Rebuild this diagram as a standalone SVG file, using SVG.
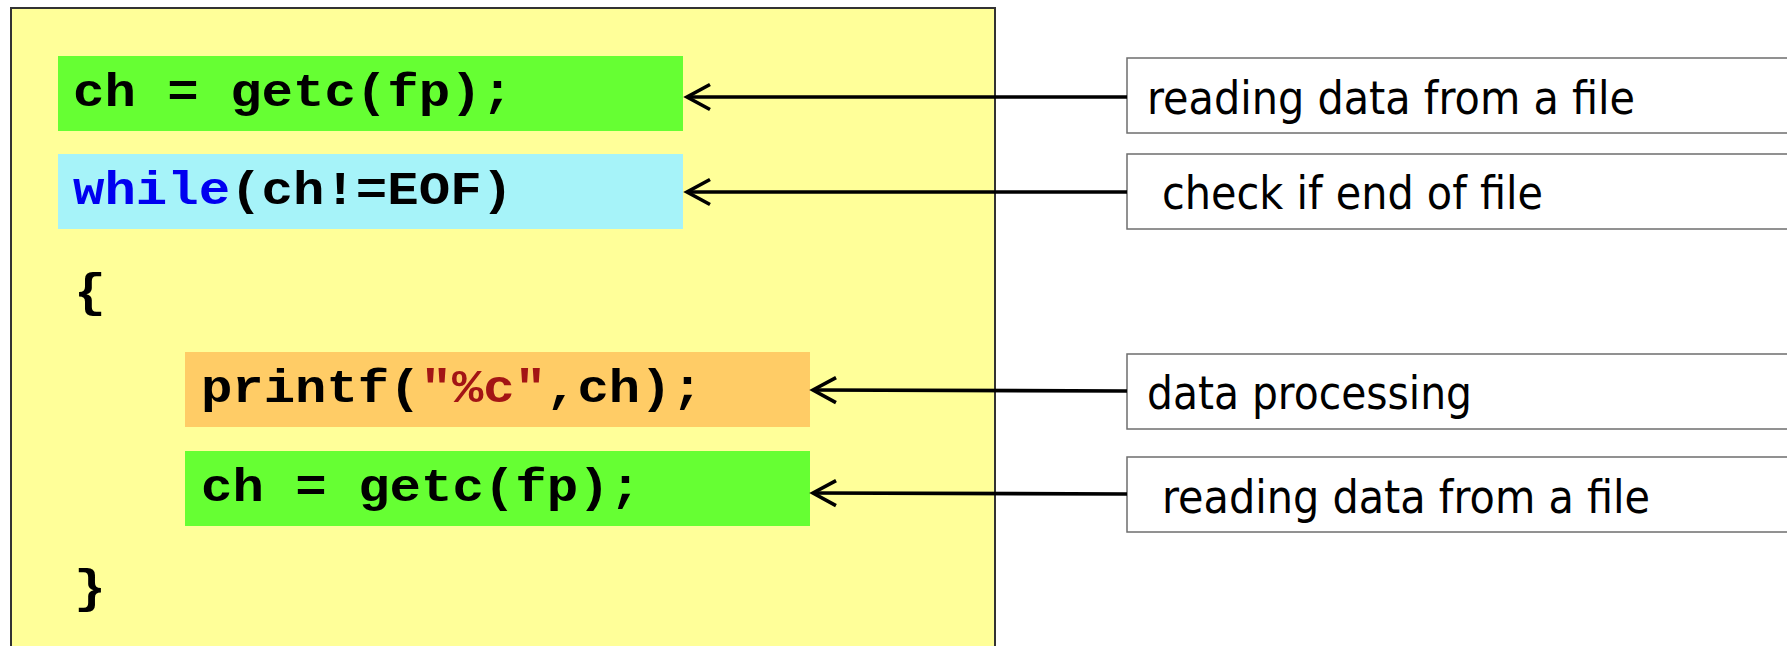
<svg xmlns="http://www.w3.org/2000/svg" width="1787" height="646" viewBox="0 0 1787 646">
<style>
.code{font-family:"Liberation Mono","Courier New",monospace;font-weight:bold;font-size:47px;fill:#000}
.kw{fill:#0000F0}
.str{fill:#A31515}
.lbl{font-family:"DejaVu Sans",Tahoma,Verdana,sans-serif;font-size:46px;fill:#000}
.lbox{fill:#fff;stroke:#6e6e6e;stroke-width:1.5}
.conn{stroke:#000;stroke-width:3.6;fill:none}
</style>
<defs>
<marker id="open" markerUnits="userSpaceOnUse" viewBox="-28 -16 32 32" markerWidth="32" markerHeight="32" refX="0" refY="0" orient="auto">
<path d="M-23,-12.5 L0,0 L-23,12.5" fill="none" stroke="#000" stroke-width="3.6" stroke-linejoin="miter"/>
</marker>
</defs>
<rect width="1787" height="646" fill="#fff"/>
<g id="codepanel">
<rect x="11" y="8" width="984" height="660" fill="#FFFF99" stroke="#333" stroke-width="2"/>
</g>
<g id="line1">
<rect x="58" y="56" width="625" height="75" fill="#66FF33"/>
<text class="code" x="73" y="106" textLength="440" lengthAdjust="spacingAndGlyphs">ch = getc(fp);</text>
</g>
<g id="line2">
<rect x="58" y="154" width="625" height="75" fill="#A6F3F9"/>
<text class="code" x="73" y="204" textLength="440" lengthAdjust="spacingAndGlyphs"><tspan class="kw">while</tspan>(ch!=EOF)</text>
</g>
<g id="brace-open">
<text class="code" x="74" y="306" textLength="32" lengthAdjust="spacingAndGlyphs">{</text>
</g>
<g id="line3">
<rect x="185" y="352" width="625" height="75" fill="#FFCC66"/>
<text class="code" x="201" y="402" textLength="502" lengthAdjust="spacingAndGlyphs">printf(<tspan class="str">"%c"</tspan>,ch);</text>
</g>
<g id="line4">
<rect x="185" y="451" width="625" height="75" fill="#66FF33"/>
<text class="code" x="201" y="501" textLength="440" lengthAdjust="spacingAndGlyphs">ch = getc(fp);</text>
</g>
<g id="brace-close">
<text class="code" x="74" y="602" textLength="32" lengthAdjust="spacingAndGlyphs">}</text>
</g>
<g id="label1">
<rect class="lbox" x="1127" y="58" width="680" height="75"/>
<text class="lbl" x="1147" y="114" textLength="488" lengthAdjust="spacingAndGlyphs">reading data from a file</text>
</g>
<g id="label2">
<rect class="lbox" x="1127" y="154" width="680" height="75"/>
<text class="lbl" x="1162" y="209" textLength="381" lengthAdjust="spacingAndGlyphs">check if end of file</text>
</g>
<g id="label3">
<rect class="lbox" x="1127" y="354" width="680" height="75"/>
<text class="lbl" x="1147" y="409" textLength="325" lengthAdjust="spacingAndGlyphs">data processing</text>
</g>
<g id="label4">
<rect class="lbox" x="1127" y="457" width="680" height="75"/>
<text class="lbl" x="1162" y="513" textLength="488" lengthAdjust="spacingAndGlyphs">reading data from a file</text>
</g>
<g id="connectors">
<line class="conn" x1="1127" y1="97" x2="687" y2="97" marker-end="url(#open)"/>
<line class="conn" x1="1127" y1="192" x2="687" y2="192" marker-end="url(#open)"/>
<line class="conn" x1="1127" y1="391" x2="813" y2="390" marker-end="url(#open)"/>
<line class="conn" x1="1127" y1="494" x2="813" y2="493" marker-end="url(#open)"/>
</g>
</svg>
